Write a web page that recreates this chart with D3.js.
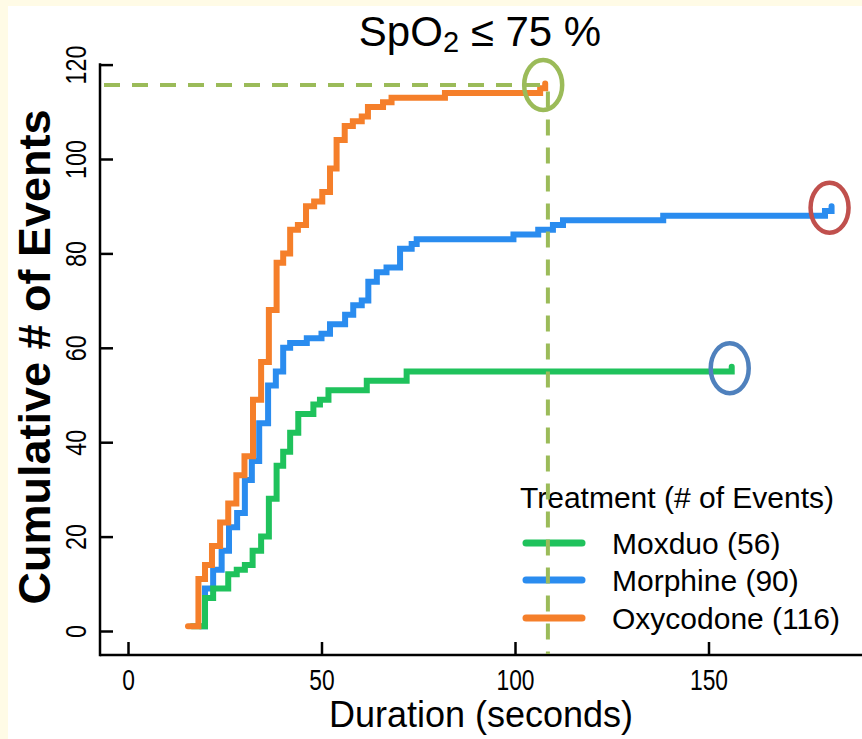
<!DOCTYPE html>
<html>
<head>
<meta charset="utf-8">
<script src="https://cdn.jsdelivr.net/npm/d3@7"></script>
<style>
  body { margin: 0; background: #fffbe6; }
  svg { display: block; }
  text { font-family: "Liberation Sans", Arial, sans-serif; fill: #000; }
</style>
</head>
<body>
<svg id="chart" width="862" height="739"></svg>
<script>
// values
const seriesNames = ["Moxduo", "Morphine", "Oxycodone"];
const eventTotals = [56, 90, 116];

// duration (s) at each step, and cumulative count after the step
const moxduoTimes  = [16.5, 19.9, 22.0, 25.9, 28.1, 30.2, 32.2, 34.4, 36.4, 38.4, 40.1, 41.9, 44.0, 47.9, 49.6, 51.8, 61.7, 72.0, 156.0];
const moxduoCounts = [1, 7, 9, 12, 13, 14, 17, 20, 28, 35, 38, 42, 46, 48, 49, 51, 53, 55, 56];

const morphineTimes  = [18.6, 19.9, 22.0, 24.2, 26.1, 28.2, 30.2, 32.0, 33.9, 36.2, 38.2, 40.1, 41.9, 46.2, 50.0, 52.2, 56.1, 58.2, 60.4, 62.1, 64.3, 66.8, 70.3, 73.3, 74.6, 99.6, 106.0, 109.8, 112.4, 138.3, 180.1, 181.8];
const morphineCounts = [1, 9, 13, 17, 22, 25, 32, 36, 44, 52, 55, 60, 61, 62, 63, 65, 67, 69, 70, 74, 76, 77, 81, 82, 83, 84, 85, 86, 87, 88, 89, 90];

const oxycodoneTimes  = [15.5, 18.2, 19.9, 21.7, 23.8, 25.9, 28.0, 30.1, 32.3, 34.4, 36.4, 38.4, 40.1, 41.9, 43.9, 46.0, 48.1, 50.2, 52.2, 53.9, 56.0, 58.1, 60.4, 62.0, 65.9, 68.1, 81.9, 106.5, 107.8];
const oxycodoneCounts = [1, 11, 14, 18, 23, 27, 33, 37, 49, 57, 68, 78, 80, 85, 86, 90, 91, 93, 98, 104, 107, 108, 109, 111, 112, 113, 114, 115, 116];

const xTicks = [0, 50, 100, 150];
const yTicks = [0, 20, 40, 60, 80, 100, 120];

// reference marker: oxycodone reaches its total at this duration
const markerDuration = 108.5;

const seriesColors = ["#1fc25c", "#2a8cef", "#f57f2a"];
const circleColors = ["#4f81bd", "#c0504d", "#9bbb59"];

const svg = d3.select("#chart");

// white plot paper over the pale page
svg.append("rect")
  .attr("x", 8).attr("y", 6)
  .attr("width", 862).attr("height", 739)
  .attr("fill", "#fff");

const x = d3.scaleLinear().domain([0, 150]).range([128, 708.5]);
const y = d3.scaleLinear().domain([0, 120]).range([631, 64.6]);

const axisLeftX = 100;
const axisBottomY = 655;

// axes
const xAxis = svg.append("g")
  .attr("transform", "translate(0," + axisBottomY + ")")
  .call(d3.axisBottom(x).tickValues(xTicks).tickSize(-13));
xAxis.select(".domain").remove();
xAxis.selectAll(".tick line").attr("stroke", "#000").attr("stroke-width", 2.5);
xAxis.selectAll(".tick text")
  .attr("font-size", 30)
  .attr("transform", "scale(0.76,1)")
  .attr("y", 35)
  .attr("dy", 0);

const yAxis = svg.append("g")
  .attr("transform", "translate(" + axisLeftX + ",0)")
  .call(d3.axisLeft(y).tickValues(yTicks).tickSize(-13));
yAxis.select(".domain").remove();
yAxis.selectAll(".tick line").attr("stroke", "#000").attr("stroke-width", 2.5);
yAxis.selectAll(".tick text")
  .attr("font-size", 30)
  .attr("text-anchor", "middle")
  .attr("transform", "rotate(-90) scale(0.78,1)")
  .attr("x", 0)
  .attr("y", -14)
  .attr("dy", 0);

svg.append("line")
  .attr("x1", axisLeftX).attr("x2", 862)
  .attr("y1", axisBottomY).attr("y2", axisBottomY)
  .attr("stroke", "#000").attr("stroke-width", 2.5);
svg.append("line")
  .attr("x1", axisLeftX).attr("x2", axisLeftX)
  .attr("y1", axisBottomY + 1.25).attr("y2", y(120) - 1.25)
  .attr("stroke", "#000").attr("stroke-width", 2.5);

// step curves
const series = [
  {name: seriesNames[0], times: moxduoTimes, counts: moxduoCounts, color: seriesColors[0]},
  {name: seriesNames[1], times: morphineTimes, counts: morphineCounts, color: seriesColors[1]},
  {name: seriesNames[2], times: oxycodoneTimes, counts: oxycodoneCounts, color: seriesColors[2]}
];

const step = d3.line()
  .x(d => x(d[0]))
  .y(d => y(d[1]))
  .curve(d3.curveStepAfter);

const drawOrder = [1, 0, 2];
drawOrder.forEach(function (i) {
  const s = series[i];
  const pts = s.times.map((t, k) => [t, s.counts[k]]);
  svg.append("path")
    .attr("d", step(pts))
    .attr("fill", "none")
    .attr("stroke", s.color)
    .attr("stroke-width", 6)
    .attr("stroke-linecap", "round")
    .attr("stroke-linejoin", "miter");
});

// end-point circles
series.forEach(function (s, i) {
  const n = s.times.length - 1;
  svg.append("ellipse")
    .attr("cx", x(s.times[n]) - 2)
    .attr("cy", y(s.counts[n]) + 1.5)
    .attr("rx", 19)
    .attr("ry", 25)
    .attr("fill", "none")
    .attr("stroke", circleColors[i])
    .attr("stroke-width", 4.5);
});

// legend
const legend = svg.append("g").attr("transform", "translate(520,0)");
legend.append("text")
  .attr("x", 0).attr("y", 508)
  .attr("font-size", 30)
  .text("Treatment (# of Events)");
const legendRows = [543, 580, 618];
series.forEach(function (s, i) {
  legend.append("line")
    .attr("x1", 6).attr("x2", 62)
    .attr("y1", legendRows[i]).attr("y2", legendRows[i])
    .attr("stroke", s.color)
    .attr("stroke-width", 7)
    .attr("stroke-linecap", "round");
  legend.append("text")
    .attr("x", 92).attr("y", legendRows[i] + 11)
    .attr("font-size", 30)
    .text(s.name + " (" + eventTotals[i] + ")");
});

// dashed reference lines
const last = oxycodoneCounts.length - 1;
svg.append("line")
  .attr("x1", axisLeftX + 4).attr("x2", x(markerDuration))
  .attr("y1", y(oxycodoneCounts[last]) + 1.5).attr("y2", y(oxycodoneCounts[last]) + 1.5)
  .attr("stroke", "#9bbb59").attr("stroke-width", 4)
  .attr("stroke-dasharray", "16,12");
svg.append("line")
  .attr("x1", x(markerDuration)).attr("x2", x(markerDuration))
  .attr("y1", y(oxycodoneCounts[last]) + 8).attr("y2", axisBottomY - 1)
  .attr("stroke", "#9bbb59").attr("stroke-width", 4)
  .attr("stroke-dasharray", "16,12");

// titles
const title = svg.append("text")
  .attr("x", 480).attr("y", 46)
  .attr("text-anchor", "middle")
  .attr("font-size", 42);
title.append("tspan").text("SpO");
title.append("tspan").attr("font-size", 29).attr("dy", 6).text("2");
title.append("tspan").attr("dy", -6).text("\u00a0\u2264 75 %");

svg.append("text")
  .attr("x", 481).attr("y", 727)
  .attr("text-anchor", "middle")
  .attr("font-size", 36)
  .text("Duration (seconds)");

svg.append("text")
  .attr("transform", "translate(50,357) rotate(-90)")
  .attr("text-anchor", "middle")
  .attr("font-size", 45)
  .attr("font-weight", "bold")
  .text("Cumulative # of Events");
</script>
</body>
</html>
